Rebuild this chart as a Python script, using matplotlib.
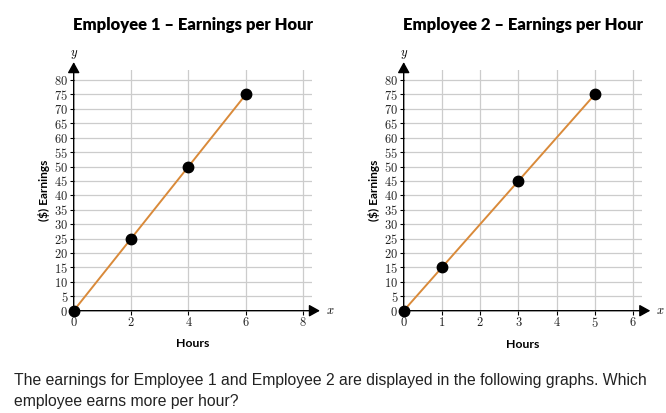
import matplotlib
matplotlib.use("Agg")
import matplotlib.pyplot as plt
import numpy as np

plt.rcParams['mathtext.fontset'] = 'cm'

# Data
titles = ["Employee 1 \u2013 Earnings per Hour", "Employee 2 \u2013 Earnings per Hour"]
hours_1 = [0, 2, 4, 6]
earnings_1 = [0, 25, 50, 75]
hours_2 = [0, 1, 3, 5]
earnings_2 = [0, 15, 45, 75]
x_ticks_1 = [0, 2, 4, 6, 8]
x_ticks_2 = [0, 1, 2, 3, 4, 5, 6]
y_ticks = list(range(0, 81, 5))
question = ["The earnings for Employee 1 and Employee 2 are displayed in the following graphs. Which",
            "employee earns more per hour?"]

W, H = 666, 413
fig = plt.figure(figsize=(W / 100, H / 100), dpi=100)

line_color = '#d98a3a'
grid_color = '#cccccc'

configs = [
    dict(left=73.7, xmax=8.3, arrow_x=8.58, xt=x_ticks_1, xs=hours_1, ys=earnings_1, title=titles[0]),
    dict(left=403.7, xmax=6.23, arrow_x=6.45, xt=x_ticks_2, xs=hours_2, ys=earnings_2, title=titles[1]),
]

ymax = 83.5
y0_px = 310.7
px_per_y = 2.884
width_px = 238.2
for c in configs:
    height_px = ymax * px_per_y
    ax = fig.add_axes([c['left'] / W, (H - y0_px) / H, width_px / W, height_px / H])
    ax.set_xlim(0, c['xmax'])
    ax.set_ylim(0, ymax)
    for s in ax.spines.values():
        s.set_visible(False)
    # grid
    for yv in y_ticks[1:]:
        ax.axhline(yv, color=grid_color, lw=0.9, zorder=1)
    for xv in c['xt'][1:]:
        ax.axvline(xv, color=grid_color, lw=0.9, zorder=1)
    # axes with arrows
    ax.annotate('', xy=(c['arrow_x'], 0), xytext=(0, 0), annotation_clip=False,
                arrowprops=dict(arrowstyle='-|>,head_length=0.65,head_width=0.36',
                                color='black', lw=1.0, mutation_scale=10,
                                shrinkA=0, shrinkB=0), zorder=3)
    ax.annotate('', xy=(0, 86.2), xytext=(0, 0), annotation_clip=False,
                arrowprops=dict(arrowstyle='-|>,head_length=0.65,head_width=0.36',
                                color='black', lw=1.0, mutation_scale=10,
                                shrinkA=0, shrinkB=0), zorder=3)
    ax.annotate('$x$', xy=(c['arrow_x'], 0), xytext=(7.5, 0), textcoords='offset points',
                fontsize=9, ha='center', va='center', annotation_clip=False)
    ax.text(0, 88.8, '$y$', fontsize=9, ha='center', va='center', clip_on=False)
    # ticks
    ax.set_xticks(c['xt'])
    ax.set_xticklabels(['$%d$' % v for v in c['xt']], fontsize=9)
    ax.set_yticks(y_ticks)
    ax.set_yticklabels(['$%d$' % v for v in y_ticks], fontsize=9)
    ax.tick_params(axis='both', length=3, width=0.8, color='black', pad=1, labelcolor='#222222')
    # data
    ax.plot(c['xs'], c['ys'], color=line_color, lw=1.4, zorder=4, clip_on=False)
    ax.plot(c['xs'], c['ys'], 'o', color='black', ms=7.5, zorder=5, clip_on=False)
    # labels
    ax.set_xlabel('Hours', fontfamily='Lato', fontweight='bold', fontsize=8.8, labelpad=6)
    ax.set_ylabel('($) Earnings', fontfamily='Lato', fontweight='bold', fontsize=8.6, labelpad=3)
    cx = (c['left'] + 119.5) / W
    fig.text(cx, 1 - 25 / H, c['title'], fontfamily='Lato', fontweight='heavy',
             fontsize=12, ha='center', va='center')

fig.text(14 / W, 1 - 385 / H, question[0], fontfamily='Liberation Sans', fontsize=11.3,
         color='#222222', ha='left', va='baseline')
fig.text(14 / W, 1 - 406 / H, question[1], fontfamily='Liberation Sans', fontsize=11.3,
         color='#222222', ha='left', va='baseline')

fig.savefig('out.png', dpi=100)
